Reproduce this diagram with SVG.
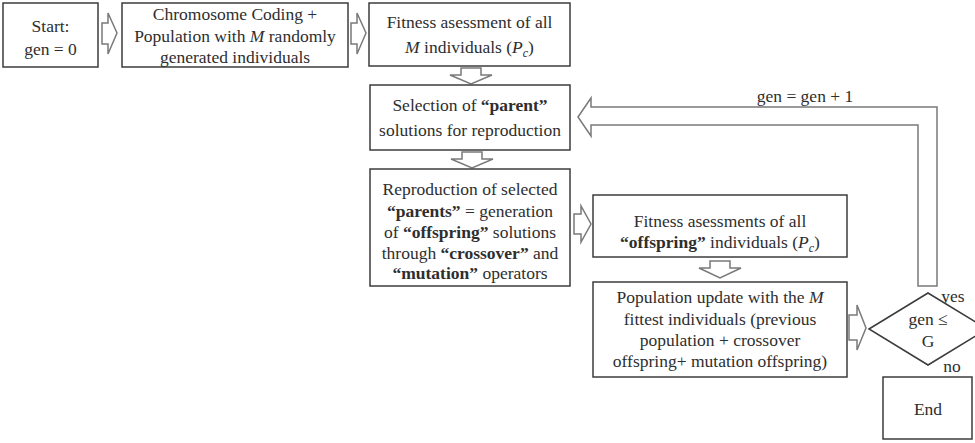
<svg xmlns="http://www.w3.org/2000/svg" width="975" height="443" viewBox="0 0 975 443">
<style>
.box{fill:#fff;stroke:#3c3c3c;stroke-width:1.5}
.arr{fill:#fff;stroke:#7a7a7a;stroke-width:1.5;stroke-linejoin:miter}
text{font-family:"Liberation Serif","Times New Roman",serif;font-size:17.5px;fill:#2e2e2e;text-anchor:middle}
.b{font-weight:bold}
.i{font-style:italic}
.sub{font-size:12px;font-style:italic}
</style>
<rect width="975" height="443" fill="#fff"/>
<g id="connectors">
<polygon class="arr" points="102,23 108,23 108,13 117,33 108,54 108,44 102,44"/>
<polygon class="arr" points="351,23 357,23 357,13 366,33 357,54 357,44 351,44"/>
<polygon class="arr" points="461,68 481,68 481,75 492,75 471,84 450,75 461,75"/>
<polygon class="arr" points="462,152 482,152 482,159 493,159 472,168 451,159 462,159"/>
<polygon class="arr" points="574,214 581,214 581,206 591,224 581,242 581,234 574,234"/>
<polygon class="arr" points="710,261 730,261 730,268 741,268 720,278 699,268 710,268"/>
<polygon class="arr" points="849,315 857,315 857,305 866,328 857,350 857,340 849,340"/>
<polygon class="arr" points="578,117 591,98 591,107 937,107 937,286 918,286 918,125 591,125 591,136"/>
<text x="805" y="102">gen = gen + 1</text>
<text x="953" y="302">yes</text>
<text x="952" y="372">no</text>
</g>
<g id="start">
<rect class="box" x="3" y="3" width="95" height="64"/>
<text x="50.5" y="32">Start:</text>
<text x="50.5" y="55">gen = 0</text>
</g>
<g id="coding">
<rect class="box" x="122" y="3" width="226" height="64"/>
<text x="235" y="20">Chromosome Coding +</text>
<text x="235" y="42">Population with <tspan class="i">M</tspan> randomly</text>
<text x="235" y="63">generated individuals</text>
</g>
<g id="fitness">
<rect class="box" x="369" y="3" width="201" height="63"/>
<text x="469.5" y="28">Fitness asessment of all</text>
<text x="469.5" y="53"><tspan class="i">M</tspan> individuals (<tspan class="i">P</tspan><tspan class="sub" dy="4">c</tspan><tspan dy="-4">)</tspan></text>
</g>
<g id="selection">
<rect class="box" x="370" y="85" width="200" height="65"/>
<text x="470" y="111">Selection of <tspan class="b">“parent”</tspan></text>
<text x="470" y="136">solutions for reproduction</text>
</g>
<g id="reproduction">
<rect class="box" x="370" y="169" width="200" height="117"/>
<text x="470" y="195">Reproduction of selected</text>
<text x="470" y="217"><tspan class="b">“parents”</tspan> = generation</text>
<text x="470" y="238">of <tspan class="b">“offspring”</tspan> solutions</text>
<text x="470" y="259">through <tspan class="b">“crossover”</tspan> and</text>
<text x="470" y="279"><tspan class="b">“mutation”</tspan> operators</text>
</g>
<g id="offspring-fitness">
<rect class="box" x="593" y="195" width="254" height="62"/>
<text x="720" y="227">Fitness asessments of all</text>
<text x="720" y="248"><tspan class="b">“offspring”</tspan> individuals (<tspan class="i">P</tspan><tspan class="sub" dy="4">c</tspan><tspan dy="-4">)</tspan></text>
</g>
<g id="update">
<rect class="box" x="593" y="282" width="254" height="95"/>
<text x="720" y="303">Population update with the <tspan class="i">M</tspan></text>
<text x="720" y="325">fittest individuals (previous</text>
<text x="720" y="346">population + crossover</text>
<text x="720" y="367">offspring+ mutation offspring)</text>
</g>
<g id="decision">
<polygon class="box" points="869,329 928,293 987,329 928,365"/>
<text x="928" y="325">gen ≤</text>
<text x="928" y="347">G</text>
</g>
<g id="end">
<rect class="box" x="883" y="377" width="89" height="62"/>
<text x="928" y="415">End</text>
</g>
</svg>
